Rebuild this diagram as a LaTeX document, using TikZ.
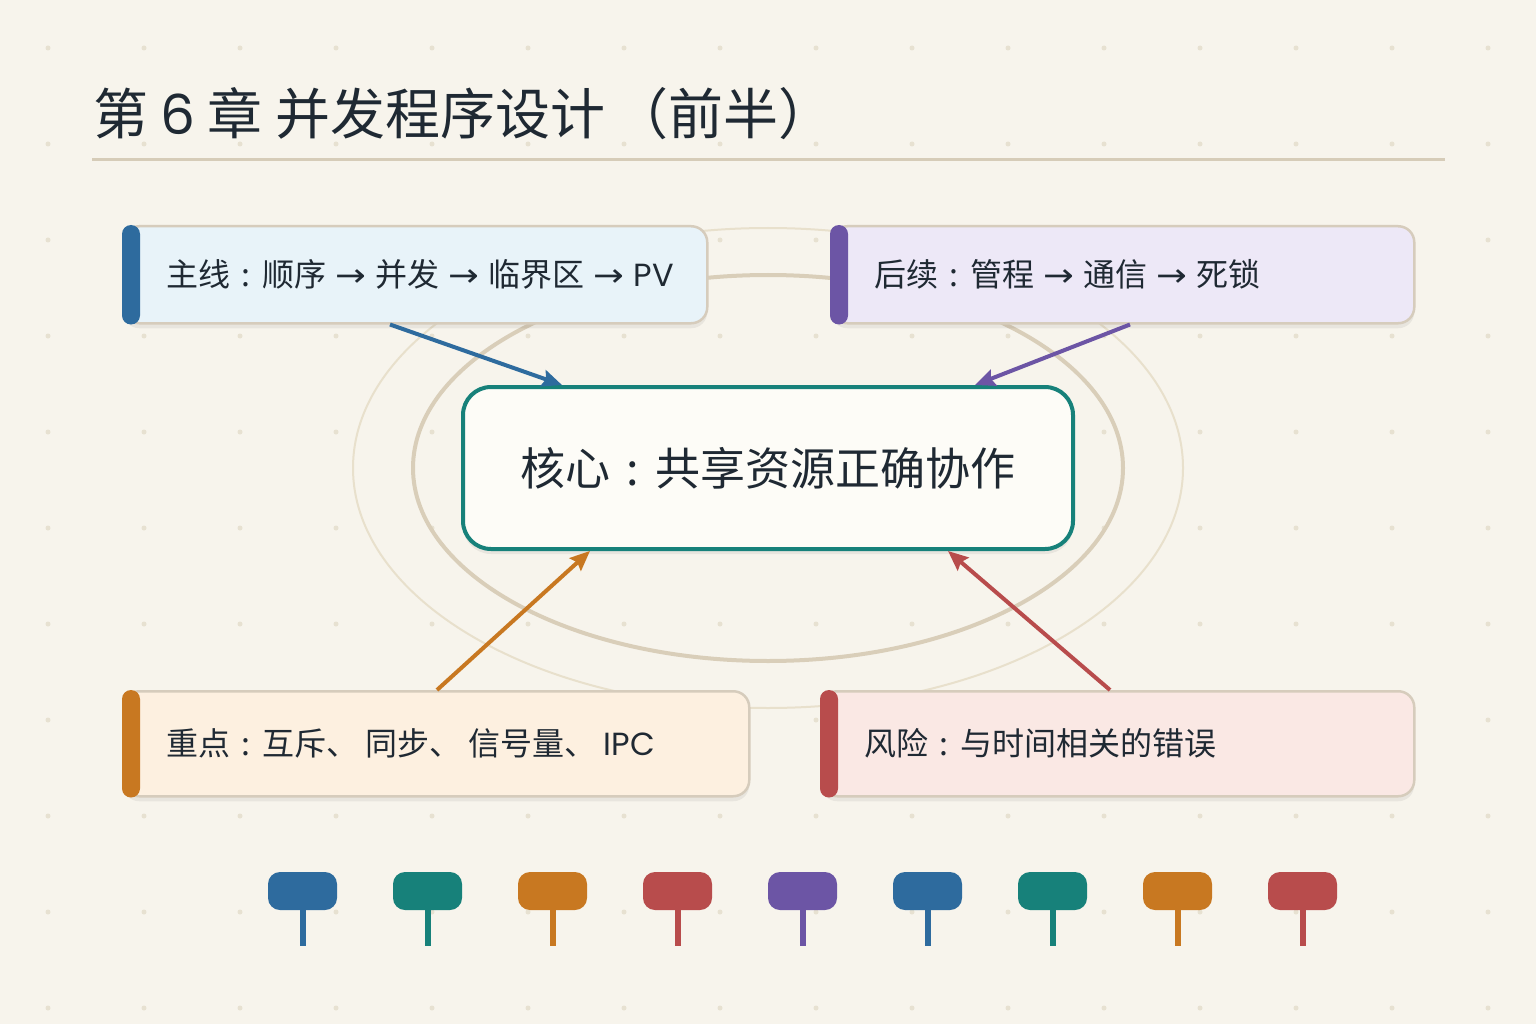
\documentclass[tikz,border=0pt]{standalone}
\usepackage{fontspec}
\usepackage{graphicx}
\setmainfont{Noto Sans CJK SC}
\newfontfamily\latinf{Poppins}
\newfontfamily\arrowf{DejaVu Sans}
\newcommand\colonc{\makebox[1em]{:}}
\newcommand\rarr{\hspace{2pt}{\arrowf\scalebox{1.15}[1]{→}}\hspace{2pt}}
\usetikzlibrary{arrows.meta,calc}
\definecolor{bg}{HTML}{F7F4EC}
\definecolor{dotc}{HTML}{E7E1D1}
\definecolor{ink}{HTML}{1F2933}
\definecolor{rulec}{HTML}{D6CCB8}
\definecolor{cardedge}{HTML}{D6CCBC}
\definecolor{ringin}{HTML}{D9CEB9}
\definecolor{ringout}{HTML}{E8E0CC}
\definecolor{acblue}{HTML}{2E6B9E}
\definecolor{acteal}{HTML}{17817A}
\definecolor{acorange}{HTML}{C87821}
\definecolor{acred}{HTML}{B84C4C}
\definecolor{acpurple}{HTML}{6C55A5}
\definecolor{fblue}{HTML}{E8F3F9}
\definecolor{fpurple}{HTML}{EDE8F7}
\definecolor{forange}{HTML}{FDF0E0}
\definecolor{fred}{HTML}{FAE8E4}
\definecolor{fcore}{HTML}{FDFCF7}
\begin{document}
\begin{tikzpicture}[x=1pt,y=-1pt,
  softshadow/.style={preaction={draw=none, fill=black, fill opacity=0.06,
      transform canvas={yshift=-5pt}}},
  card/.style={draw=cardedge, line width=2.5pt, rounded corners=16pt,
    minimum height=97pt, anchor=north west, inner sep=0pt, softshadow},
  cardtext/.style={anchor=west, inner sep=0pt, text=ink, font=\fontsize{32}{36}\selectfont},
  arr/.style={line width=4pt, -{Stealth[length=20pt,width=17pt,inset=3pt]}},
  pinc/.style={rounded corners=12pt}
]
\fill[bg] (0,0) rectangle (1536,1024);
\useasboundingbox (0,0) rectangle (1536,1024);
% dot grid
\foreach \i in {0,...,15}{\foreach \j in {0,...,10}{
  \fill[dotc] (48+96*\i,48+96*\j) circle (2.5);}}
% title
\node[anchor=base west, inner sep=0pt, text=ink, font=\fontsize{55}{60}\selectfont] (title) at (93,135) {第 {\latinf 6} 章 并发程序设计\hspace{8pt}（前半）};
\draw[rulec, line width=3pt] (92,160) -- (1445,160);
% rings
\draw[ringout, line width=2pt] (768,468) ellipse [x radius=415, y radius=240];
\draw[ringin, line width=4pt] (768,468) ellipse [x radius=355, y radius=193];
% cards
\node[card, fill=fblue, minimum width=584pt] (main) at (122,225) {};
\fill[acblue, rounded corners=9pt] (main.north west) rectangle ($(main.south west)+(18,0)$);
\node[cardtext] (maint) at ($(main.west)+(44,0)$) {主线\colonc 顺序 \rarr{} 并发 \rarr{} 临界区 \rarr{} {\latinf PV}};

\node[card, fill=fpurple, minimum width=583pt] (next) at (830,225) {};
\fill[acpurple, rounded corners=9pt] (next.north west) rectangle ($(next.south west)+(18,0)$);
\node[cardtext] (nextt) at ($(next.west)+(44,0)$) {后续\colonc 管程 \rarr{} 通信 \rarr{} 死锁};

\node[card, fill=forange, minimum width=626pt, minimum height=105pt] (key) at (122,690) {};
\fill[acorange, rounded corners=9pt] (key.north west) rectangle ($(key.south west)+(18,0)$);
\node[cardtext] (keyt) at ($(key.west)+(44,0)$) {重点\colonc 互斥、 同步、 信号量、 {\latinf IPC}};

\node[card, fill=fred, minimum width=593pt, minimum height=105pt] (risk) at (820,690) {};
\fill[acred, rounded corners=9pt] (risk.north west) rectangle ($(risk.south west)+(18,0)$);
\node[cardtext] (riskt) at ($(risk.west)+(44,0)$) {风险\colonc 与时间相关的错误};

% core
\node[draw=acteal, line width=4pt, fill=fcore, rounded corners=28pt,
  minimum width=610pt, minimum height=162pt, text=ink,
  font=\fontsize{45}{50}\selectfont, softshadow] (core) at (768,468) {核心\makebox[1em]{:}共享资源正确协作};
% connectors
\draw[arr, acblue] ($(main.south west)+(268,0)$) -- ($(core.north west)+(101,0)$);
\draw[arr, acpurple] ($(next.south west)+(300,0)$) -- ($(core.north west)+(514,0)$);
\draw[arr, acorange] ($(key.north west)+(315,0)$) -- ($(core.south west)+(129,0)$);
\draw[arr, acred] ($(risk.north west)+(290,0)$) -- ($(core.south west)+(487,0)$);
% pins
\foreach \k/\c in {0/acblue,1/acteal,2/acorange,3/acred,4/acpurple,5/acblue,6/acteal,7/acorange,8/acred}{
  \fill[\c, pinc] (268+125*\k,872) rectangle ++(69,38);
  \fill[\c] (300+125*\k,905) rectangle ++(6,41);
}
\end{tikzpicture}
\end{document}
